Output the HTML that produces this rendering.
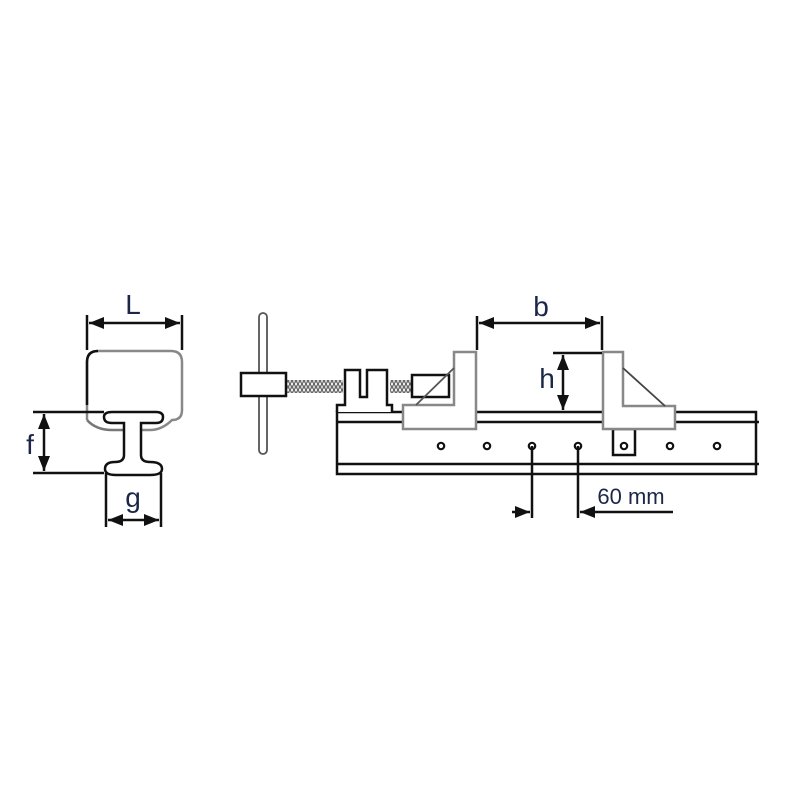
<!DOCTYPE html>
<html><head><style>
html,body{margin:0;padding:0;background:#fff;}
svg{display:block}
text{font-family:"Liberation Sans",sans-serif;fill:#1c2748;}
</style></head><body>
<svg width="800" height="800" viewBox="0 0 800 800" xmlns="http://www.w3.org/2000/svg">
<defs>
<marker id="a" viewBox="0 0 10 10" refX="10" refY="5" markerWidth="6" markerHeight="6" orient="auto-start-reverse"><path d="M0,1 L10,5 L0,9 z" fill="#111"/></marker>
<pattern id="sp" x="0" y="0" width="4" height="6" patternUnits="userSpaceOnUse"><rect width="4" height="6" fill="#fff"/><ellipse cx="2" cy="3" rx="1.3" ry="2.4" fill="none" stroke="#444" stroke-width="1.1"/></pattern>
</defs>
<g fill="none" stroke="#111" stroke-width="2.5">
<!-- left profile -->
<path d="M87,420 L87,362 Q87,351 98,351 L171,351 Q182,351 182,362 L182,410 Q182,420 172,420 Q162,430 150,430 L141,430" stroke="#888" stroke-width="2.5"/>
<path d="M87,405 L87,362 Q87,351 98,351" />
<path d="M87,420 Q96,430 112,430 L124,430" stroke="#777"/>
<path d="M124,423 L112,423 Q104,423 104,417 Q104,412 112,412 L156,412 Q163,412 163,417 Q163,423 156,423 L141,423 L141,455 Q141,462 150,462 Q162,462 162,469 Q162,475 150,475 L116,475 Q105,475 105,469 Q105,462 115,462 Q124,462 124,455 Z" stroke="#111"/>
<line x1="87" y1="315" x2="87" y2="350"/><line x1="182" y1="315" x2="182" y2="350"/>
<line x1="89" y1="323" x2="180" y2="323" marker-start="url(#a)" marker-end="url(#a)"/>
<line x1="33" y1="412" x2="104" y2="412"/><line x1="33" y1="473" x2="104" y2="473"/>
<line x1="44" y1="414" x2="44" y2="471" marker-start="url(#a)" marker-end="url(#a)"/>
<line x1="106" y1="473" x2="106" y2="527"/><line x1="161" y1="473" x2="161" y2="527"/>
<line x1="108" y1="520" x2="159" y2="520" marker-start="url(#a)" marker-end="url(#a)"/>
<!-- handle -->
<rect x="259" y="313" width="8" height="141" rx="4" stroke="#555" stroke-width="1.8"/>
<rect x="286" y="380" width="57" height="13" fill="url(#sp)" stroke="none"/>
<rect x="390" y="380" width="22" height="13" fill="url(#sp)" stroke="none"/>
<rect x="241" y="373" width="45" height="23" fill="#fff"/>
<!-- bar -->
<rect x="337" y="412" width="419" height="62"/>
<line x1="337" y1="422" x2="759" y2="422"/>
<line x1="337" y1="464" x2="759" y2="464"/>
<!-- movable block -->
<path d="M337,412 L337,405 L345,405 L345,370 L360,370 L360,397 L367,397 L367,370 L387,370 L387,405 L392,405 L392,412" fill="#fff"/>
<rect x="412" y="375" width="37" height="22" fill="#fff"/>
<!-- left jaw -->
<path d="M454,352 L476,352 L476,429 L403,429 L403,405 L454,405 Z" fill="#fff" stroke="#888" stroke-width="2.5"/>
<line x1="454" y1="368" x2="416" y2="405" stroke="#555" stroke-width="1.8"/>
<!-- right jaw -->
<rect x="613" y="429" width="22" height="26" fill="#fff"/>
<path d="M603,352 L623,352 L623,406 L675,406 L675,429 L603,429 Z" fill="#fff" stroke="#888" stroke-width="2.5"/>
<line x1="623" y1="368" x2="665" y2="406" stroke="#444" stroke-width="1.8"/>
<!-- holes -->
<g stroke-width="2.2"><circle cx="441" cy="446" r="3.2"/><circle cx="487" cy="446" r="3.2"/><circle cx="532" cy="446" r="3.2"/><circle cx="578" cy="446" r="3.2"/><circle cx="624" cy="446" r="3.2"/><circle cx="670" cy="446" r="3.2"/><circle cx="717" cy="446" r="3.2"/></g>
<!-- b -->
<line x1="477" y1="316" x2="477" y2="350"/><line x1="602" y1="316" x2="602" y2="350"/>
<line x1="479" y1="323" x2="600" y2="323" marker-start="url(#a)" marker-end="url(#a)"/>
<!-- h -->
<line x1="553" y1="353" x2="602" y2="353"/>
<line x1="563" y1="355" x2="563" y2="410" marker-start="url(#a)" marker-end="url(#a)"/>
<!-- 60 mm -->
<line x1="532" y1="446" x2="532" y2="518"/><line x1="578" y1="446" x2="578" y2="518"/>
<line x1="512" y1="512" x2="530" y2="512" marker-end="url(#a)"/>
<line x1="673" y1="512" x2="580" y2="512" marker-end="url(#a)"/>
</g>
<text x="133" y="314" font-size="28" text-anchor="middle">L</text>
<text x="30" y="454" font-size="28" text-anchor="middle">f</text>
<text x="133" y="507" font-size="28" text-anchor="middle">g</text>
<text x="541" y="316" font-size="28" text-anchor="middle">b</text>
<text x="547" y="388" font-size="28" text-anchor="middle">h</text>
<text x="631" y="504" font-size="22" text-anchor="middle">60 mm</text>
</svg>
</body></html>
